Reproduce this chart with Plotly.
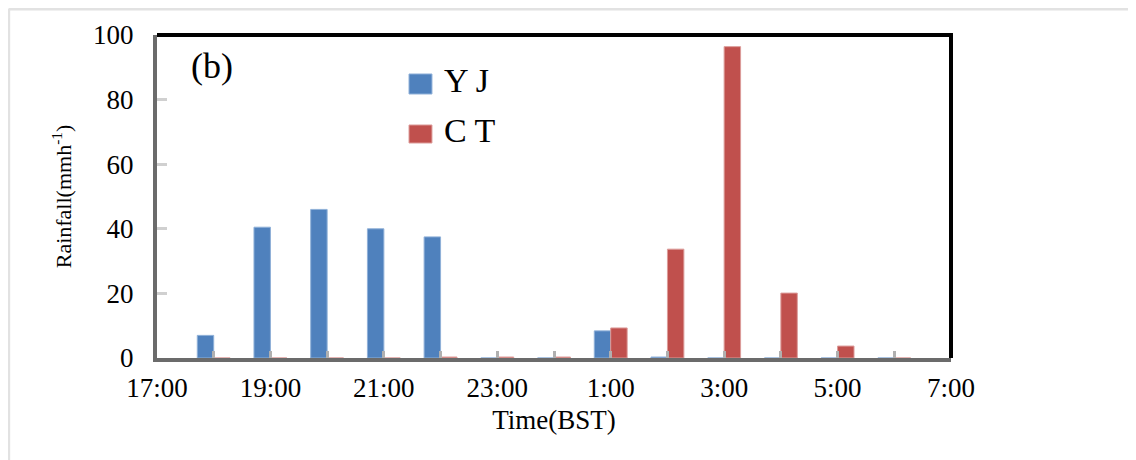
import plotly.graph_objects as go
import pandas as pd

# ---- data ----
hours = ["18:00", "19:00", "20:00", "21:00", "22:00", "23:00", "0:00",
         "1:00", "2:00", "3:00", "4:00", "5:00", "6:00"]
days = ["2013-07-20"] * 6 + ["2013-07-21"] * 7
yj = [7, 40.5, 46, 40, 37.5, 0, 0, 8.4, 0.3, 0, 0, 0, 0]
ct = [0, 0, 0, 0, 0.3, 0.3, 0.3, 9.3, 33.7, 96.4, 20.1, 3.7, 0]
series_names = ["YJ", "CT"]
legend_labels = ["Y J", "C T"]
colors = {"YJ": "#4F81BD", "CT": "#C0504D"}
edge = {"YJ": "#8FB0D8", "CT": "#DC9C9A"}
x_start, x_end = "2013-07-20 17:00", "2013-07-21 07:00"
panel_label = "(b)"
x_title = "Time(BST)"
y_title = "Rainfall(mmh<sup>-1</sup>)"

times = pd.to_datetime([f"{d} {h}" for d, h in zip(days, hours)])

SERIF = "Liberation Serif, Times New Roman, serif"

fig = go.Figure()
for name, vals in zip(series_names, [yj, ct]):
    fig.add_trace(go.Bar(
        x=times, y=vals, name=name,
        marker=dict(color=colors[name], line=dict(color=edge[name], width=1)),
        showlegend=False,
    ))

# page body has an 8px margin: offset margins to compensate
fig.update_layout(
    width=1136, height=460,
    margin=dict(l=149, r=193, t=27, b=110),
    paper_bgcolor="white", plot_bgcolor="white",
    barmode="group", bargap=0.42, bargroupgap=0,
    font=dict(family=SERIF, color="black"),
)

fig.update_xaxes(
    type="date",
    range=[x_start, x_end],
    tick0=x_start, dtick=2 * 3600000,
    tickformat="%-H:%M",
    ticks="inside", ticklen=7, tickwidth=3, tickcolor="#b0b0b0",
    minor=dict(dtick=3600000, ticks="inside", ticklen=7, tickwidth=3, tickcolor="#b0b0b0"),
    showgrid=False,
    showline=True, linecolor="#6b6b6b", linewidth=4,
    tickfont=dict(size=27, family=SERIF, color="black"),
    ticklabelstandoff=3,
    title=dict(text=x_title, font=dict(size=27, family=SERIF, color="black"), standoff=9),
)
fig.update_yaxes(
    range=[0, 100], tick0=0, dtick=20,
    ticks="inside", ticklen=10, tickwidth=3, tickcolor="#d0d0d0",
    showgrid=False, zeroline=False,
    showline=True, linecolor="#6b6b6b", linewidth=4,
    tickfont=dict(size=27, family=SERIF, color="black"),
    ticklabelstandoff=14,
    title=dict(text=y_title, font=dict(size=22, family=SERIF, color="black"), standoff=16),
)

shapes = [
    # top and right plot borders (black)
    dict(type="line", xref="paper", yref="paper", x0=0, x1=1.0025, y0=1, y1=1,
         line=dict(color="black", width=4)),
    dict(type="line", xref="paper", yref="paper", x0=1, x1=1, y0=0, y1=1,
         line=dict(color="black", width=4)),
    # light gray outer frame (top and left)
    dict(type="line", xref="paper", yref="paper", x0=-0.1870, x1=1.3, y0=1.0805, y1=1.0805,
         line=dict(color="#e2e2e2", width=3)),
    dict(type="line", xref="paper", yref="paper", x0=-0.1868, x1=-0.1868, y0=-0.35, y1=1.0805,
         line=dict(color="#e2e2e2", width=3)),
]

# custom legend
leg_y = [(0.8793, 0.8173), (0.7214, 0.6656)]
annotations = []
for name, lab, (ya, yb) in zip(series_names, legend_labels, leg_y):
    shapes.append(dict(type="rect", xref="paper", yref="paper",
                       x0=0.3174, x1=0.3463, y0=yb, y1=ya,
                       fillcolor=colors[name], line=dict(color=edge[name], width=1)))
    annotations.append(dict(xref="paper", yref="paper", x=0.3589, y=(ya + yb) / 2 + 0.01,
                            xanchor="left", yanchor="middle", showarrow=False,
                            text=lab, font=dict(size=34, family=SERIF, color="black")))

annotations.append(dict(xref="paper", yref="paper", x=0.0693, y=0.904,
                        xanchor="center", yanchor="middle", showarrow=False,
                        text=panel_label, font=dict(size=36, family=SERIF, color="black")))

fig.update_layout(shapes=shapes, annotations=annotations)

fig.write_html("out.html")
